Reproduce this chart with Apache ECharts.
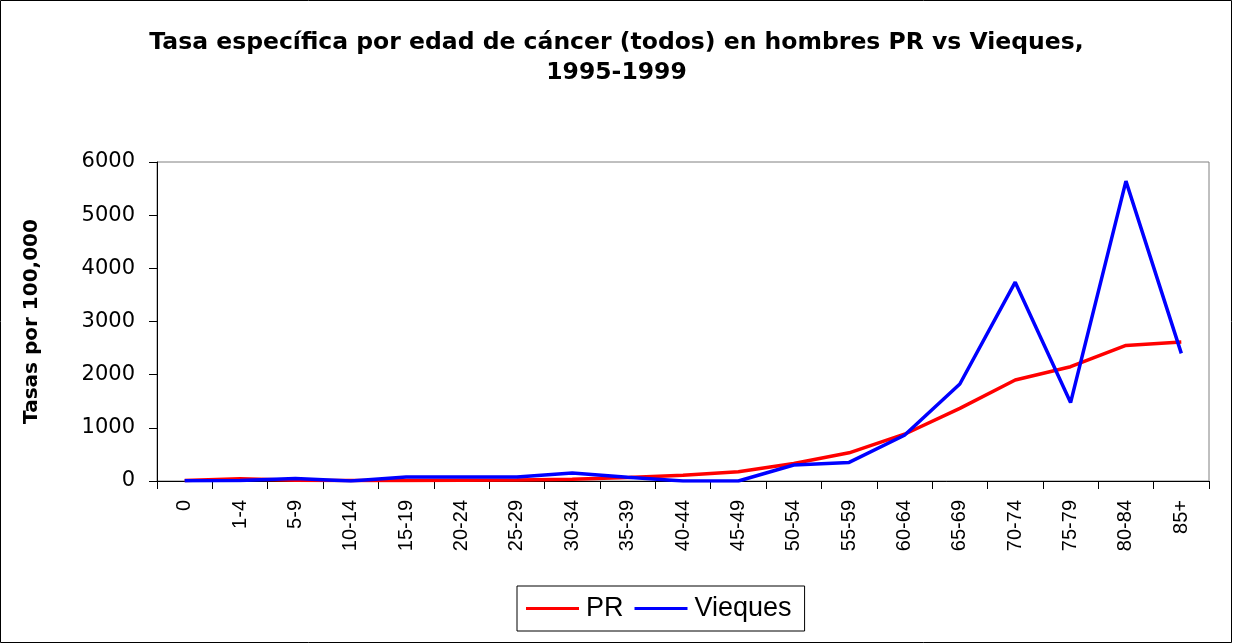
<!DOCTYPE html>
<html><head><meta charset="utf-8">
<script src="https://cdn.jsdelivr.net/npm/echarts@6/dist/echarts.min.js"></script>
<style>html,body{margin:0;padding:0;background:#fff}#c{width:1233px;height:644px}</style>
</head><body><div id="c"></div>
<script>
const categories = ['0','1-4','5-9','10-14','15-19','20-24','25-29','30-34','35-39','40-44','45-49','50-54','55-59','60-64','65-69','70-74','75-79','80-84','85+'];
const prValues = [10,40,15,8,10,15,20,35,65,110,175,330,530,880,1365,1900,2150,2550,2615];
const viequesValues = [5,10,45,0,75,75,75,150,70,0,0,300,350,860,1825,3740,1475,5640,2400];
const yTicks = [0,1000,2000,3000,4000,5000,6000];

const chart = echarts.init(document.getElementById('c'));
chart.setOption({
  animation:false,
  backgroundColor:'#fff',
  graphic:[{type:'rect',shape:{x:0.5,y:0.5,width:1231,height:642},style:{fill:'none',stroke:'#000',lineWidth:1},z:-1}],
  title:{
    text:'Tasa específica por edad de cáncer (todos) en hombres PR vs Vieques,\n1995-1999',
    left:'center', top:23,
    textStyle:{fontFamily:'DejaVu Sans',fontWeight:'bold',fontSize:23.5,color:'#000',lineHeight:30}
  },
  legend:{
    data:['PR','Vieques'], left:517, top:586,
    borderColor:'#000', borderWidth:1, padding:[9,13,9,9],
    icon:'rect', itemWidth:53, itemHeight:3, itemGap:11,
    textStyle:{fontFamily:'Liberation Sans, Arial',fontSize:27,color:'#000',lineHeight:26,padding:[0,0,0,2]}
  },
  grid:{left:157,right:24,top:162,bottom:163,show:true,borderColor:'#808080',borderWidth:1},
  xAxis:{
    type:'category', data:categories, boundaryGap:true,
    axisLine:{lineStyle:{color:'#000',width:1}},
    axisTick:{show:true,alignWithLabel:false,length:8,lineStyle:{color:'#000'}},
    axisLabel:{rotate:90,fontFamily:'Liberation Sans, Arial',fontSize:20,color:'#000',margin:19,interval:0}
  },
  yAxis:{
    type:'value', min:0, max:6000, interval:1000,
    name:'Tasas por 100,000', nameLocation:'middle', nameGap:115,
    nameTextStyle:{fontFamily:'DejaVu Sans',fontWeight:'bold',fontSize:20,color:'#000'},
    axisLine:{show:true,lineStyle:{color:'#000',width:1}},
    axisTick:{show:true,length:8,lineStyle:{color:'#000'}},
    splitLine:{show:false},
    axisLabel:{fontFamily:'DejaVu Sans',fontSize:21,color:'#000',margin:22,
      formatter:v=>yTicks.includes(v)?String(v):''}
  },
  series:[
    {name:'PR',type:'line',data:prValues,showSymbol:false,symbol:'none',lineStyle:{color:'#ff0000',width:3.5},itemStyle:{color:'#ff0000'}},
    {name:'Vieques',type:'line',data:viequesValues,showSymbol:false,symbol:'none',lineStyle:{color:'#0000ff',width:3.5},itemStyle:{color:'#0000ff'}}
  ]
});
</script></body></html>
